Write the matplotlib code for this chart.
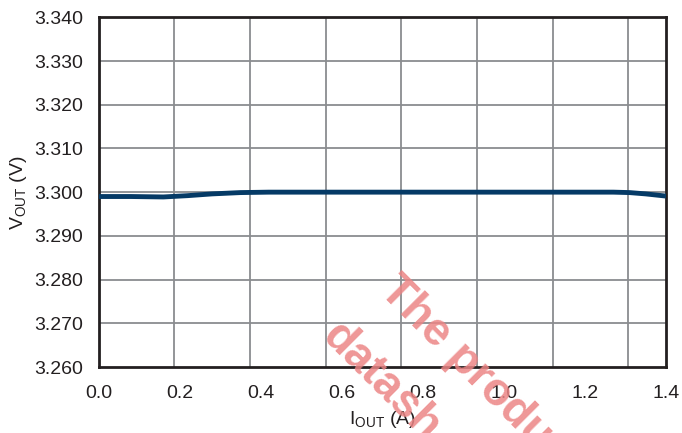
import matplotlib

matplotlib.use("Agg")

import matplotlib.pyplot as plt
import numpy as np

# load current (A) vs output voltage (V)
iout = [0.0, 0.08, 0.16, 0.22, 0.28, 0.35, 0.42, 0.6, 0.8, 1.0, 1.2, 1.27, 1.31, 1.35, 1.38, 1.4]
vout = [3.2990, 3.2990, 3.2989, 3.2992, 3.2996, 3.2999, 3.3000, 3.3000, 3.3000, 3.3000, 3.3000,
        3.3000, 3.2999, 3.2996, 3.2993, 3.2991]

x_ticks = [0.0, 0.2, 0.4, 0.6, 0.8, 1.0, 1.2, 1.4]
y_ticks = [3.260, 3.270, 3.280, 3.290, 3.300, 3.310, 3.320, 3.330, 3.340]
x_grid = [k * 1.4 / 7.5 for k in range(1, 8)]

plt.rcParams["font.family"] = ["Liberation Sans", "DejaVu Sans"]

W, H = 682, 433
fig = plt.figure(figsize=(W / 100, H / 100), dpi=100)
ax = fig.add_axes([98.5 / W, 1 - 367 / H, (666 - 98.5) / W, (367 - 17.3) / H])

for gx in x_grid:
    ax.axvline(gx, color="#8a8c90", lw=1.3, zorder=1)
for gy in y_ticks[1:-1]:
    ax.axhline(gy, color="#8a8c90", lw=1.3, zorder=1)

ax.plot(iout, vout, color="#053a66", lw=3.5, solid_capstyle="butt", zorder=3)

ax.set_xlim(0, 1.4)
ax.set_ylim(3.260, 3.340)
ax.set_xticks(x_ticks)
ax.set_xticklabels([f"{v:.1f}" for v in x_ticks])
ax.set_yticks(y_ticks)
ax.set_yticklabels([f"{v:.3f}" for v in y_ticks])
ax.tick_params(length=0, labelsize=14, colors="#231f20")
ax.tick_params(axis="x", pad=13)
ax.tick_params(axis="y", pad=11)
for s in ax.spines.values():
    s.set_linewidth(2)
    s.set_color("#231f20")

ax.set_xlabel(r"I$_{\mathregular{OUT}}$ (A)", fontsize=14, color="#231f20", labelpad=5)
ax.set_ylabel(r"V$_{\mathregular{OUT}}$ (V)", fontsize=14, color="#231f20", labelpad=4)

# watermark, cut by the image edge like the original
wm = dict(fontsize=33, fontweight="bold", color="#ec8585", alpha=0.85, rotation=-45,
          rotation_mode="anchor", ha="left", va="baseline", zorder=10)
fig.text(378 / W, 1 - 292 / H, "The produ", **wm)
fig.text(320 / W, 1 - 338 / H, "datash", **wm)

fig.savefig("out.png", dpi=100)
